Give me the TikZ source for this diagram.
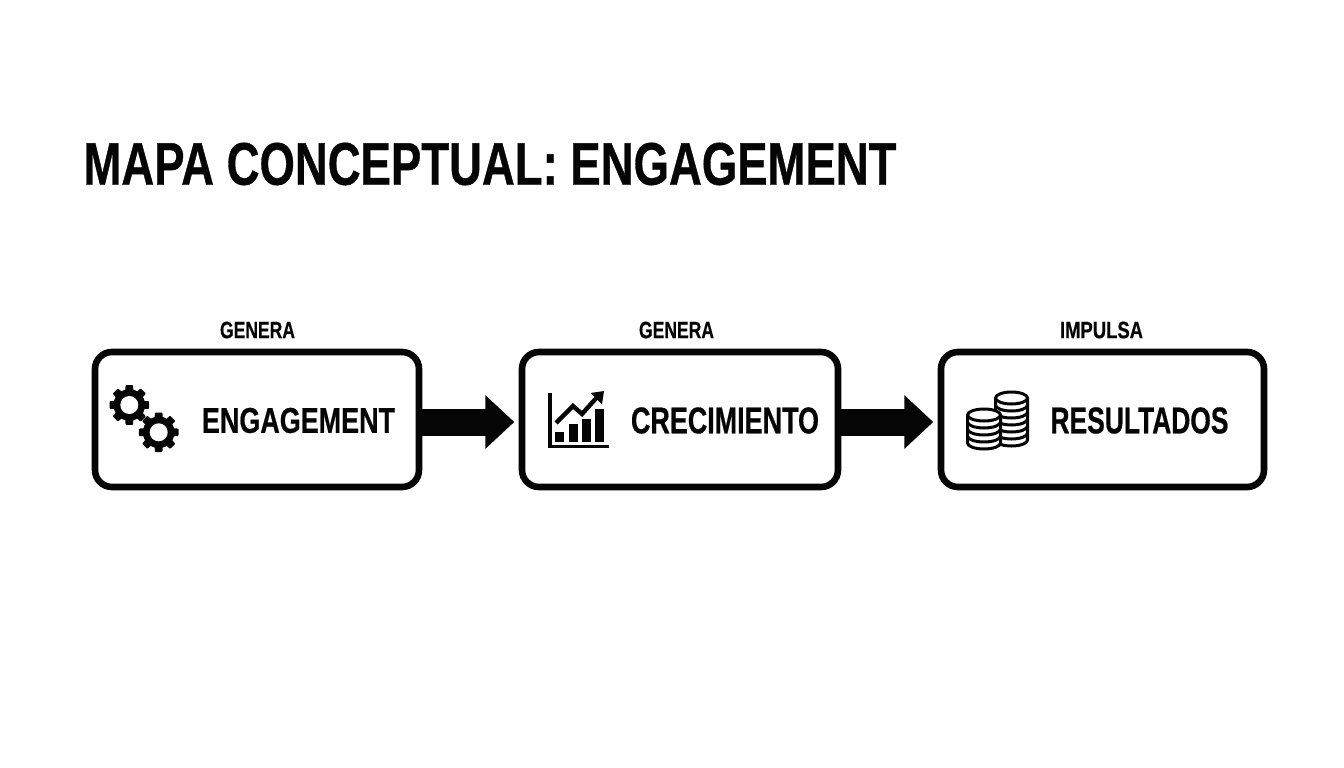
\documentclass[tikz,border=0pt]{standalone}
\usepackage{fontspec}
\usepackage{graphicx}
\setmainfont{Liberation Sans}[BoldFeatures={FakeBold=0.7}]
\usetikzlibrary{arrows.meta}
\newcommand{\fittxt}[3]{\resizebox{#1pt}{#2pt}{\bfseries #3}}
\definecolor{ink}{HTML}{050505}
\tikzset{
  x=1pt,y=-1pt,
  lbl/.style={inner sep=0pt,outer sep=0pt,text=ink,anchor=center},
  cbox/.style={draw=ink,line width=6.6pt,rounded corners=17pt,fill=white,minimum height=135pt,inner sep=0pt},
  flow/.style={draw=ink,line width=27pt,-{Triangle[length=29pt,width=52pt]},shorten >=4.4pt},
  coin/.style={draw=ink,line width=3pt,fill=white,line join=round},
}
% gear: centre x, centre y
\newcommand{\geardraw}[2]{%
  \fill[ink] (#1,#2) circle[radius=15.8pt];
  \foreach \k in {0,...,7}{%
    \fill[ink,shift={(#1,#2)},rotate=45*\k,rounded corners=0.8pt] (-5,0) -- (-3.7,-19.8) -- (3.7,-19.8) -- (5,0) -- cycle;
  }
  \fill[white] (#1,#2) circle[radius=9pt];%
}
% coin stack: centre x, top centre y, half width, number of layers
\newcommand{\coinstack}[4]{%
  \foreach \k in {#4,...,1}{%
    \pgfmathsetmacro{\yt}{#2+7*(\k-1)}
    \pgfmathsetmacro{\yb}{#2+7*\k}
    \draw[coin] ({#1-#3},\yt) -- ({#1-#3},\yb) arc[start angle=180,end angle=360,x radius=#3pt,y radius=6pt] -- ({#1+#3},\yt);
  }
  \draw[coin] (#1,#2) ellipse[x radius=#3pt,y radius=6pt];%
}
\begin{document}
\begin{tikzpicture}
\useasboundingbox[fill=white] (0,0) rectangle (1344,768);

\node[lbl] (title) at (490,164) {\fittxt{813}{42}{MAPA CONCEPTUAL: ENGAGEMENT}};

\node[cbox,minimum width=324pt] (n1) at (257,419.5) {};
\node[cbox,minimum width=316pt] (n2) at (680,419.5) {};
\node[cbox,minimum width=323pt] (n3) at (1102.5,419.5) {};

\draw[flow] ([yshift=-2.5pt]n1.east) -- ([yshift=-2.5pt]n2.west);
\draw[flow] ([yshift=-2.5pt]n2.east) -- ([yshift=-2.5pt]n3.west);

\node[lbl] (l1) at (257.5,330) {\fittxt{75}{16.5}{GENERA}};
\node[lbl] (l2) at (676.5,330) {\fittxt{75}{16.5}{GENERA}};
\node[lbl] (l3) at (1101.5,330) {\fittxt{83}{16.5}{IMPULSA}};

\node[lbl] (t1) at (298.5,420.5) {\fittxt{193}{25}{ENGAGEMENT}};
\node[lbl] (t2) at (725,420.5) {\fittxt{188}{26}{CRECIMIENTO}};
\node[lbl] (t3) at (1139.5,420.5) {\fittxt{178}{26}{RESULTADOS}};

% gears
\geardraw{129.3}{405}
\geardraw{158.7}{432.3}

% chart
\fill[ink] (548,393) rectangle (551.5,448);
\fill[ink] (548,444.5) rectangle (608.5,448);
\fill[ink] (555,432) rectangle (564,442);
\fill[ink] (569,424) rectangle (577.5,442);
\fill[ink] (582,419) rectangle (590.5,442);
\fill[ink] (595,409) rectangle (603.5,442);
\draw[ink,line width=4.4pt,line join=miter] (556,423) -- (573,406) -- (582,414) -- (599,395);
\fill[ink] (590.5,393) -- (604,391) -- (602,404.5) -- cycle;

% coins
\coinstack{1011.5}{398}{16}{6}
\coinstack{984}{415}{16.5}{4}
\end{tikzpicture}
\end{document}
